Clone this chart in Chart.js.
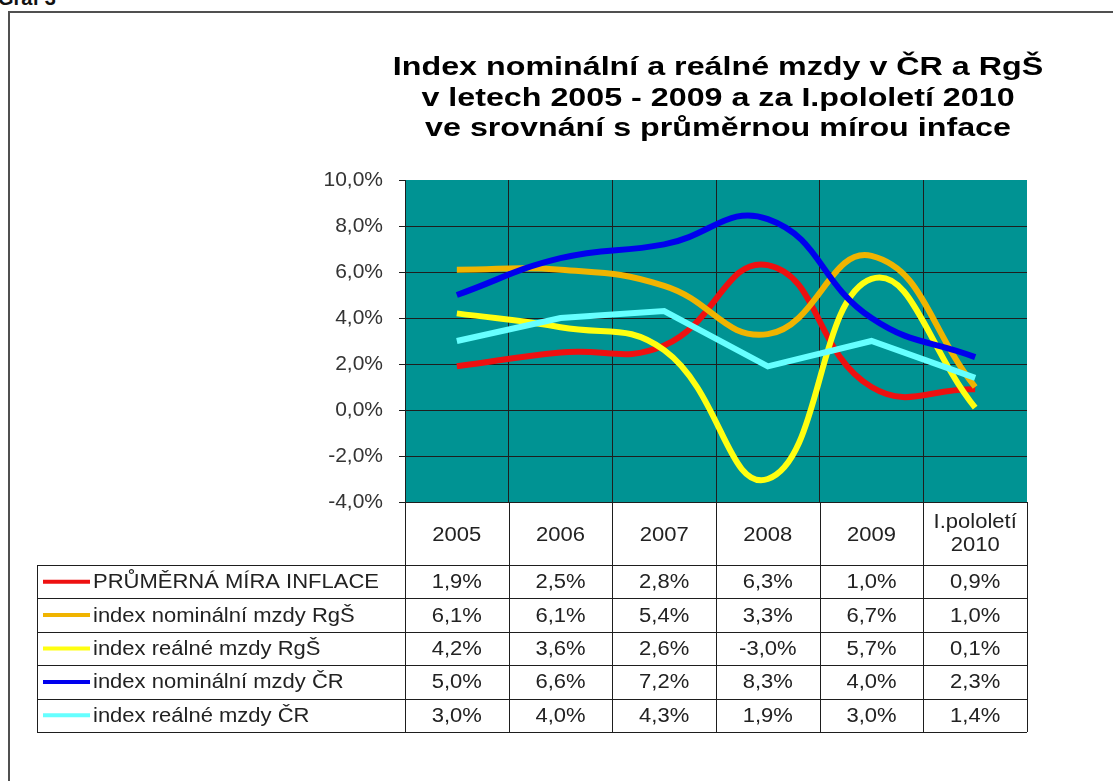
<!DOCTYPE html>
<html>
<head>
<meta charset="utf-8">
<script src="https://cdn.jsdelivr.net/npm/chart.js@4/dist/chart.umd.min.js"></script>
<style>
  body { margin: 0; background: #fff; overflow: hidden; width: 1113px; height: 781px; position: relative; }
  #ramec { position: absolute; left: 8px; top: 11px; width: 1200px; height: 900px; border: 2px solid #505050; }
  #graf { position: absolute; left: -2px; top: -13px; font: bold 20px "Liberation Sans", Arial, sans-serif; color: #111; }
  #c { position: absolute; left: 0; top: 0; }
</style>
</head>
<body>
<div id="graf">Graf 3</div>
<div id="ramec"></div>
<canvas id="c" width="1113" height="781"></canvas>
<script>
// data
const roky = ["2005", "2006", "2007", "2008", "2009", "I.pololetí 2010"];
const hlavickaRoky = [["2005"], ["2006"], ["2007"], ["2008"], ["2009"], ["I.pololetí", "2010"]];
const nazvy = [
  "PRŮMĚRNÁ MÍRA INFLACE",
  "index nominální mzdy RgŠ",
  "index reálné mzdy RgŠ",
  "index nominální mzdy ČR",
  "index reálné mzdy ČR"
];
const inflace = [1.9, 2.5, 2.8, 6.3, 1.0, 0.9];
const nominalniRgS = [6.1, 6.1, 5.4, 3.3, 6.7, 1.0];
const realneRgS = [4.2, 3.6, 2.6, -3.0, 5.7, 0.1];
const nominalniCR = [5.0, 6.6, 7.2, 8.3, 4.0, 2.3];
const realneCR = [3.0, 4.0, 4.3, 1.9, 3.0, 1.4];
const titulek = [
  "Index nominální a reálné mzdy v ČR a RgŠ",
  "v letech 2005 - 2009 a za I.pololetí 2010",
  "ve srovnání s průměrnou mírou inface"
];

const barvy = ["#ee1010", "#f0b400", "#ffff10", "#0000ee", "#66ffff"];
const rady = [inflace, nominalniRgS, realneRgS, nominalniCR, realneCR];
const FONT = '"Liberation Sans", Arial, sans-serif';

function procenta(v) {
  return v.toFixed(1).replace('.', ',') + '%';
}

// text roztazeny do sirky jako v originale
function text(ctx, s, x, y, align, font, sx) {
  ctx.save();
  ctx.font = font;
  ctx.textAlign = align;
  ctx.textBaseline = 'middle';
  ctx.translate(x, y);
  ctx.scale(sx, 1);
  ctx.fillText(s, 0, 0);
  ctx.restore();
}

const pozadi = {
  id: 'pozadi',
  beforeDraw(chart) {
    const { ctx, chartArea: a } = chart;
    ctx.save();
    ctx.fillStyle = '#009393';
    ctx.fillRect(a.left, a.top, a.right - a.left, a.bottom - a.top);
    ctx.restore();
  }
};

const titulekPlugin = {
  id: 'titulek',
  afterDraw(chart) {
    const ctx = chart.ctx;
    const a = chart.chartArea;
    const cx = (a.left + a.right) / 2 + 2;
    ctx.fillStyle = '#000';
    titulek.forEach((t, i) => {
      text(ctx, t, cx, 68 + i * 30.5, 'center', 'bold 26px ' + FONT, 1.24);
    });
  }
};

const tabulka = {
  id: 'tabulka',
  afterDraw(chart) {
    const ctx = chart.ctx;
    const xs = chart.scales.x;
    const a = chart.chartArea;
    const sirka = xs.getPixelForValue(1) - xs.getPixelForValue(0);
    const hrany = [];
    for (let i = 0; i <= roky.length; i++) {
      hrany.push(xs.getPixelForValue(0) - sirka / 2 + i * sirka);
    }
    const levy = 37;
    const top = a.bottom;
    const hlavaDole = top + 63;
    const radek = 33.4;
    const dole = hlavaDole + radek * rady.length;

    ctx.save();
    ctx.strokeStyle = '#1e1e1e';
    ctx.lineWidth = 1;
    ctx.beginPath();
    hrany.forEach(x => {
      ctx.moveTo(Math.round(x) + 0.5, top);
      ctx.lineTo(Math.round(x) + 0.5, dole);
    });
    ctx.moveTo(hrany[0], top + 0.5);
    ctx.lineTo(hrany[hrany.length - 1], top + 0.5);
    for (let r = 0; r <= rady.length; r++) {
      const y = Math.round(hlavaDole + r * radek) + 0.5;
      ctx.moveTo(levy, y);
      ctx.lineTo(hrany[hrany.length - 1], y);
    }
    ctx.moveTo(levy + 0.5, hlavaDole);
    ctx.lineTo(levy + 0.5, dole);
    ctx.stroke();

    ctx.fillStyle = '#222';
    hlavickaRoky.forEach((h, i) => {
      const x = xs.getPixelForValue(i);
      if (h.length == 1) {
        text(ctx, h[0], x, top + 33, 'center', '20px ' + FONT, 1.1);
      } else {
        text(ctx, h[0], x, top + 20, 'center', '20px ' + FONT, 1.1);
        text(ctx, h[1], x, top + 43, 'center', '20px ' + FONT, 1.1);
      }
    });

    rady.forEach((rada, r) => {
      const y = hlavaDole + r * radek + radek / 2;
      ctx.strokeStyle = barvy[r];
      ctx.lineWidth = 4;
      ctx.beginPath();
      ctx.moveTo(43, y);
      ctx.lineTo(90, y);
      ctx.stroke();
      ctx.fillStyle = '#222';
      text(ctx, nazvy[r], 93, y + 1, 'left', '20px ' + FONT, 1.1);
      rada.forEach((v, i) => {
        text(ctx, procenta(v), xs.getPixelForValue(i), y + 1, 'center', '20px ' + FONT, 1.1);
      });
    });
    ctx.restore();
  }
};

new Chart(document.getElementById('c'), {
  type: 'line',
  data: {
    labels: roky,
    datasets: rady.map((rada, i) => ({
      label: nazvy[i],
      data: rada,
      borderColor: barvy[i],
      borderWidth: 6,
      pointRadius: 0,
      fill: false,
      tension: i == 4 ? 0 : 0.45,
      order: 4 - i
    }))
  },
  options: {
    responsive: false,
    animation: false,
    layout: { padding: { left: 305, right: 86, top: 180, bottom: 279 } },
    plugins: {
      legend: { display: false },
      tooltip: { enabled: false },
      title: { display: false }
    },
    scales: {
      x: {
        offset: true,
        ticks: { display: false },
        border: { display: false },
        grid: {
          offset: true,
          drawTicks: false,
          color: (c) => c.type === 'tick' ? '#1e1e1e' : 'rgba(0,0,0,0)'
        },
        afterFit: (s) => { s.height = 0; }
      },
      y: {
        min: -4,
        max: 10,
        ticks: {
          stepSize: 2,
          padding: 16,
          color: '#333',
          font: { family: FONT, size: 21 },
          callback: (v) => procenta(v)
        },
        border: { display: true, color: '#1e1e1e', width: 1 },
        grid: {
          tickLength: 6,
          tickColor: '#1e1e1e',
          color: (c) => c.tick && c.tick.value === 10 ? 'rgba(0,0,0,0)' : '#1e1e1e'
        },
        afterFit: (s) => { s.width = 100; }
      }
    }
  },
  plugins: [pozadi, titulekPlugin, tabulka]
});
</script>
</body>
</html>
